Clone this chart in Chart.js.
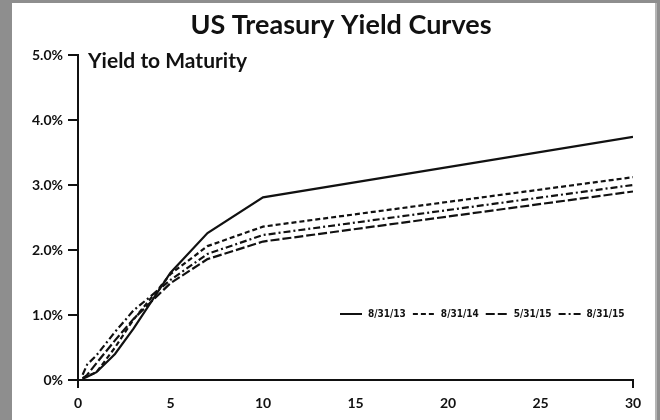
<!DOCTYPE html>
<html>
<head>
<meta charset="utf-8">
<script src="https://cdn.jsdelivr.net/npm/chart.js@4"></script>
<style>
  html, body { margin: 0; padding: 0; }
  body { width: 660px; height: 420px; background: #8e8e8e; position: relative; overflow: hidden; }
  #panel { position: absolute; left: 12px; top: 3px; width: 643px; height: 417px; background: #fff; border-right: 2px solid #b5b5b5; }
</style>
</head>
<body>
<div id="panel"><canvas id="chart" width="643" height="417"></canvas></div>
<script>
// maturities in years
const maturities = [0.25, 0.5, 1, 2, 3, 5, 7, 10, 30];

// yields in percent
const yields130831 = [0.02, 0.05, 0.12, 0.40, 0.79, 1.65, 2.26, 2.81, 3.74];
const yields140831 = [0.03, 0.06, 0.12, 0.50, 0.93, 1.63, 2.06, 2.36, 3.12];
const yields150531 = [0.02, 0.08, 0.26, 0.61, 0.94, 1.49, 1.86, 2.13, 2.90];
const yields150831 = [0.08, 0.24, 0.38, 0.74, 1.07, 1.54, 1.94, 2.23, 3.00];

const seriesLabels = ['8/31/13', '8/31/14', '5/31/15', '8/31/15'];
const xTicks = [0, 5, 10, 15, 20, 25, 30];
const yTicks = [0, 1, 2, 3, 4, 5];

const ink = '#111';

function points(values) {
  return maturities.map((m, i) => ({ x: m, y: values[i] }));
}

// title and inner caption
const captions = {
  id: 'captions',
  afterDraw(chart) {
    const ctx = chart.ctx;
    const area = chart.chartArea;
    ctx.save();
    ctx.fillStyle = ink;
    ctx.textBaseline = 'alphabetic';
    ctx.textAlign = 'center';
    ctx.font = 'bold 27px Lato';
    ctx.fillText('US Treasury Yield Curves', 329, 31);
    ctx.textAlign = 'left';
    ctx.font = 'bold 21px Lato';
    ctx.fillText('Yield to Maturity', area.left + 10, area.top + 13);
    ctx.restore();
  }
};

// legend drawn inside the plot, lower right
const innerLegend = {
  id: 'innerLegend',
  afterDraw(chart) {
    const ctx = chart.ctx;
    const area = chart.chartArea;
    let x = area.left + 262;
    const y = area.top + 259;
    ctx.save();
    ctx.font = 'bold 10px "DejaVu Sans Condensed"';
    ctx.textBaseline = 'middle';
    ctx.fillStyle = ink;
    chart.data.datasets.forEach(ds => {
      ctx.strokeStyle = ds.borderColor;
      ctx.lineWidth = 2;
      ctx.setLineDash(ds.borderDash || []);
      ctx.beginPath();
      ctx.moveTo(x, y);
      ctx.lineTo(x + 22, y);
      ctx.stroke();
      ctx.setLineDash([]);
      x += 28;
      ctx.fillText(ds.label, x, y);
      x += ctx.measureText(ds.label).width + 7;
    });
    ctx.restore();
  }
};

new Chart(document.getElementById('chart'), {
  type: 'line',
  data: {
    datasets: [
      { label: seriesLabels[0], data: points(yields130831), borderDash: [] },
      { label: seriesLabels[1], data: points(yields140831), borderDash: [5, 3] },
      { label: seriesLabels[2], data: points(yields150531), borderDash: [9, 3] },
      { label: seriesLabels[3], data: points(yields150831), borderDash: [7, 3, 2, 3] }
    ].map(ds => Object.assign(ds, {
      borderColor: ink,
      borderWidth: 2.2,
      pointRadius: 0,
      tension: 0,
      fill: false
    }))
  },
  options: {
    responsive: false,
    animation: false,
    layout: { padding: { top: 52, right: 22, left: 0, bottom: 0 } },
    plugins: {
      legend: { display: false },
      title: { display: false },
      tooltip: { enabled: false }
    },
    scales: {
      x: {
        type: 'linear',
        min: 0,
        max: 30,
        afterFit: s => { s.height = 40; },
        afterBuildTicks: s => { s.ticks = xTicks.map(v => ({ value: v })); },
        ticks: { color: ink, font: { family: 'Lato', size: 14, weight: 'bold' }, padding: 7 },
        grid: {
          drawOnChartArea: false,
          tickLength: 8,
          lineWidth: 2,
          color: c => (c.tick && (c.tick.value === 0 || c.tick.value === 30)) ? ink : 'rgba(0,0,0,0)'
        },
        border: { color: ink, width: 2 }
      },
      y: {
        min: 0,
        max: 5,
        afterFit: s => { s.width = 66; },
        afterBuildTicks: s => { s.ticks = yTicks.map(v => ({ value: v })); },
        ticks: {
          color: ink,
          font: { family: 'Lato', size: 14, weight: 'bold' },
          padding: 5,
          callback: v => v === 0 ? '0%' : v.toFixed(1) + '%'
        },
        grid: { drawOnChartArea: false, tickLength: 10, lineWidth: 2, color: ink },
        border: { color: ink, width: 2 }
      }
    }
  },
  plugins: [captions, innerLegend]
});
</script>
</body>
</html>
